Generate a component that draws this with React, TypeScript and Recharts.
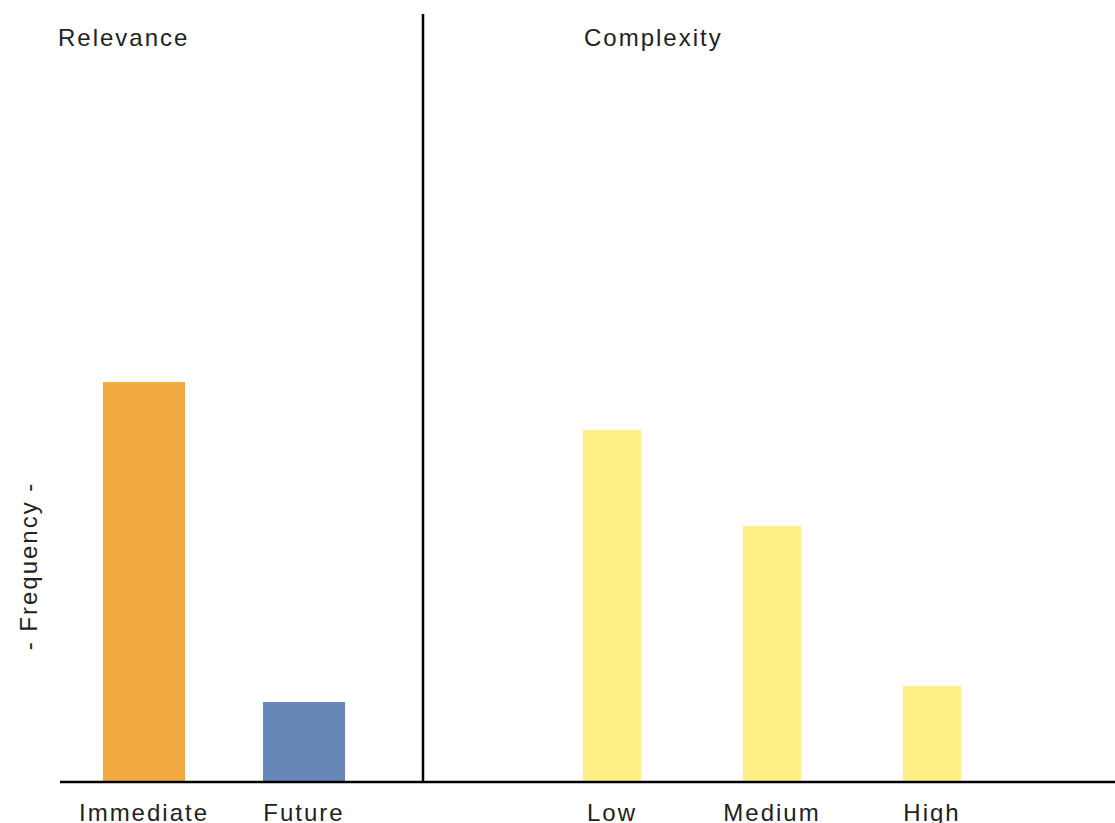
import { Bar, BarChart, Cell, XAxis, YAxis } from 'recharts';

const relevanceLabels = ['Immediate', 'Future'];
const relevanceValues = [25, 5];
const relevanceColors = ['#F4AA42', '#6887B9'];

const complexityLabels = ['Low', 'Medium', 'High'];
const complexityValues = [22, 16, 6];
const complexityColor = '#FFF185';

const yMax = 48;

const relevanceData = relevanceLabels.map((name, i) => ({ name, value: relevanceValues[i] }));
const complexityData = complexityLabels.map((name, i) => ({ name, value: complexityValues[i] }));

const font = '"Liberation Sans", Arial, sans-serif';
const textColor = '#222';
const tickStyle = { fill: textColor, fontSize: 24, fontFamily: font, letterSpacing: 2 };

export default function App() {
  return (
    <div style={{ position: 'absolute', left: 0, top: 0, width: 1115, height: 823, background: '#fff' }}>
      <div style={{ position: 'absolute', left: 0, top: 0 }}>
        <BarChart width={423} height={823} data={relevanceData} margin={{ top: 14, right: 0, bottom: 0, left: 60 }}>
          <XAxis
            dataKey="name"
            height={41}
            padding={{ left: 4, right: 39 }}
            axisLine={{ stroke: '#000', strokeWidth: 2.5 }}
            tickLine={false}
            tickMargin={16}
            tick={tickStyle}
            interval={0}
          />
          <YAxis hide domain={[0, yMax]} />
          <Bar dataKey="value" barSize={82} isAnimationActive={false}>
            {relevanceData.map((d, i) => (
              <Cell key={d.name} fill={relevanceColors[i]} />
            ))}
          </Bar>
        </BarChart>
      </div>
      <div style={{ position: 'absolute', left: 0, top: 0 }}>
        <BarChart width={1115} height={823} data={complexityData} margin={{ top: 14, right: 0, bottom: 0, left: 422 }}>
          <XAxis
            dataKey="name"
            height={41}
            padding={{ left: 109, right: 103 }}
            axisLine={{ stroke: '#000', strokeWidth: 2.5 }}
            tickLine={false}
            tickMargin={16}
            tick={tickStyle}
            interval={0}
          />
          <YAxis
            width={1}
            domain={[0, yMax]}
            tick={false}
            tickLine={false}
            axisLine={{ stroke: '#000', strokeWidth: 2.5 }}
          />
          <Bar dataKey="value" fill={complexityColor} barSize={58} isAnimationActive={false} />
        </BarChart>
      </div>
      <svg
        width={1115}
        height={823}
        style={{ position: 'absolute', left: 0, top: 0, pointerEvents: 'none' }}
      >
        <text x={58} y={46} fontSize={24} fontFamily={font} fill={textColor} letterSpacing={2}>
          Relevance
        </text>
        <text x={584} y={46} fontSize={24} fontFamily={font} fill={textColor} letterSpacing={2}>
          Complexity
        </text>
        <text
          x={0}
          y={0}
          transform="translate(37 566) rotate(-90)"
          textAnchor="middle"
          fontSize={24}
          fontFamily={font}
          fill={textColor}
          letterSpacing={2}
        >
          - Frequency -
        </text>
      </svg>
    </div>
  );
}
